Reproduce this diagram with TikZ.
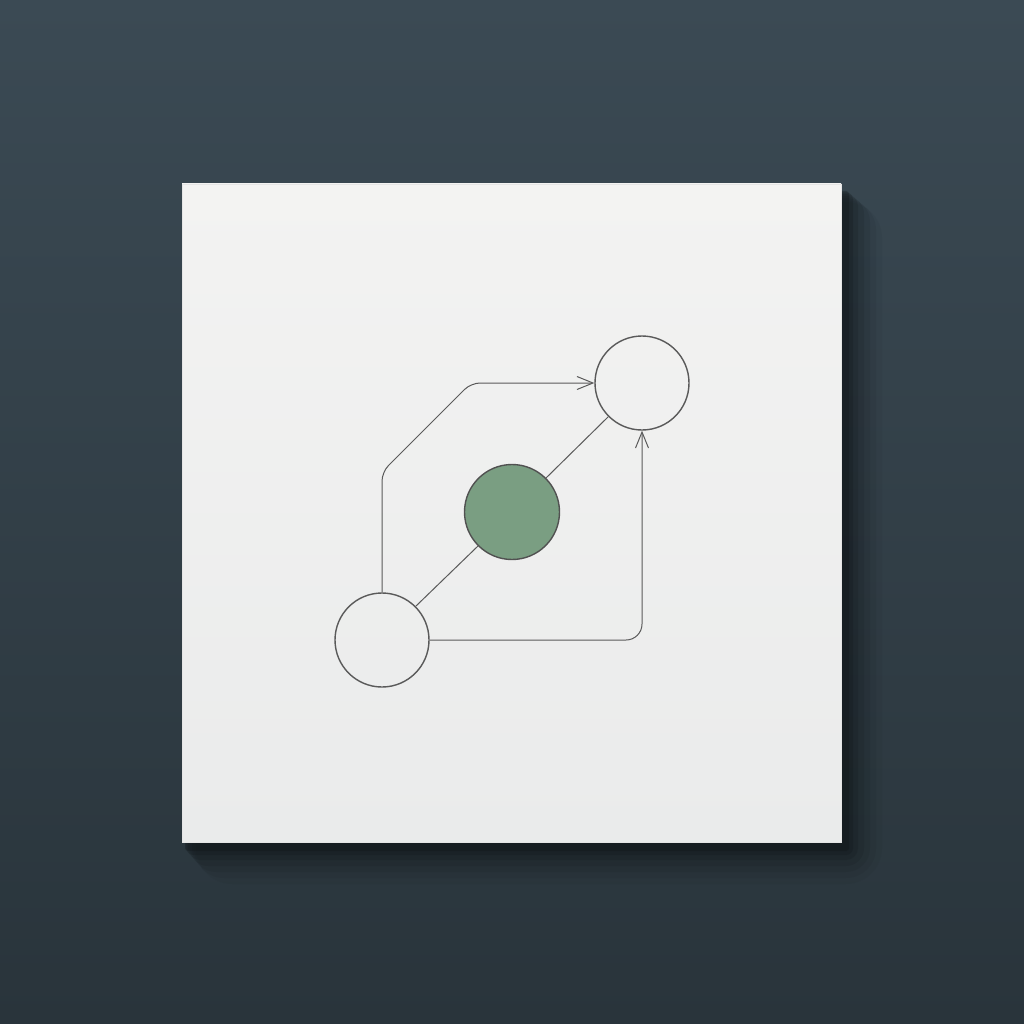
\documentclass[tikz,border=0pt]{standalone}
\usetikzlibrary{arrows.meta}
\definecolor{slatetop}{HTML}{3B4A54}
\definecolor{slatebot}{HTML}{29343B}
\definecolor{shadowc}{HTML}{0E1316}
\definecolor{cardtop}{HTML}{F3F3F2}
\definecolor{cardbot}{HTML}{EAEBEB}
\definecolor{stroke}{HTML}{5A5A5A}
\definecolor{sage}{HTML}{7A9E82}
\tikzset{
  ring/.style={circle, draw=stroke, line width=1.4pt, minimum size=94pt, inner sep=0pt},
  hub/.style={circle, draw=stroke!90!black, line width=1.4pt, minimum size=95pt, inner sep=0pt, fill=sage},
  wire/.style={draw=stroke, line width=1pt},
  flow/.style={wire, -{Straight Barb[length=16pt,width=13pt,line width=1pt]}},
}
\begin{document}
\begin{tikzpicture}[x=1pt,y=-1pt]
  \useasboundingbox (0,0) rectangle (1024,1024);
  % background
  \shade[top color=slatetop, bottom color=slatebot] (0,0) rectangle (1024,1024);
  % shadow (soft)
  \foreach \d/\o in {36/0.05,30/0.07,24/0.09,18/0.12,12/0.16,7/0.22,3/0.3}{
    \fill[shadowc, opacity=\o, rounded corners=\d pt] (184+\d/3,190+\d/3) rectangle (846+\d,848+\d);
  }
  % card
  \shade[top color=cardtop, bottom color=cardbot] (182,184) rectangle (841,842);
  \draw[white!80!gray, line width=0.6pt] (182,184) rectangle (841,842);
  % nodes
  \node[ring] (a) at (382,640) {};
  \node[ring] (b) at (642,383) {};
  \node[hub]  (g) at (512,512) {};
  % waypoints
  \coordinate (t1) at (382,472);
  \coordinate (t2) at (471,383);
  % connectors
  \draw[wire] (a.north east) -- (g.south west);
  \draw[wire] (g.north east) -- (b.south west);
  \draw[flow, rounded corners=9pt] (a.north) -- (t1) -- (t2) -- (b.west);
  \draw[flow, rounded corners=16pt] (a.east) -| (b.south);
\end{tikzpicture}
\end{document}
